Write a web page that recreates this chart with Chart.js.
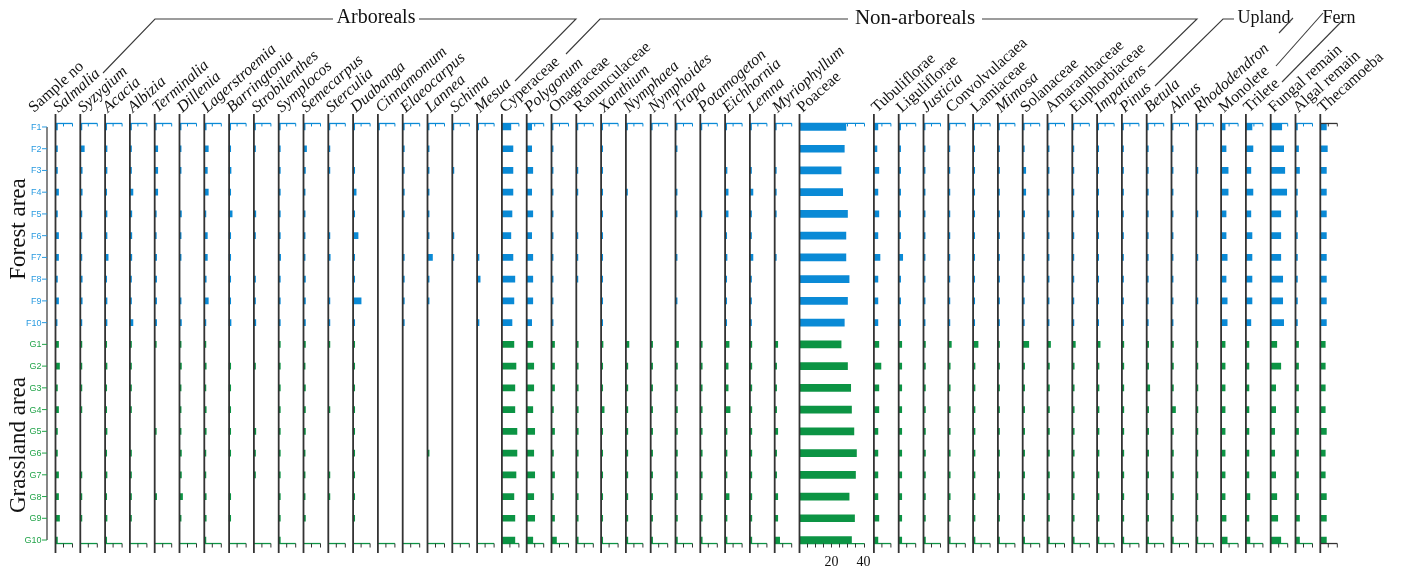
<!DOCTYPE html>
<html>
<head>
<meta charset="utf-8">
<script src="https://cdn.jsdelivr.net/npm/chart.js@4.4.1/dist/chart.umd.min.js"></script>
<style>
  html, body { margin: 0; padding: 0; background: #fff; }
  #wrap { width: 1402px; height: 570px; }
</style>
</head>
<body>
<div id="wrap"><canvas id="c" width="1402" height="570"></canvas></div>
<script>
// Sample sites: ten forest plots and ten grassland plots
const samples = ['F1','F2','F3','F4','F5','F6','F7','F8','F9','F10',
                 'G1','G2','G3','G4','G5','G6','G7','G8','G9','G10'];

// Taxa in diagram order
const taxa = ['Salmalia','Syzygium','Acacia','Albizia','Terminalia','Dillenia','Lagerstroemia',
  'Barringtonia','Strobilenthes','Symplocos','Semecarpus','Sterculia','Duabanga','Cinnamomum',
  'Elaeocarpus','Lannea','Schima','Mesua',
  'Cyperaceae','Polygonum','Onagraceae','Ranunculaceae','Xanthium','Nymphaea','Nymphoides','Trapa',
  'Potamogeton','Eichhornia','Lemna','Myriophyllum','Poaceae',
  'Tubuliflorae','Liguliflorae','Justicia','Convolvulacaea','Lamiaceae','Mimosa','Solanaceae',
  'Amaranthaceae','Euphorbiaceae','Impatiens',
  'Pinus','Betula','Alnus','Rhododendron',
  'Monolete','Trilete',
  'Fungal remain','Algal remain','Thecamoeba'];

// Genus names are set in italics
const italicTaxa = ['Salmalia','Syzygium','Acacia','Albizia','Terminalia','Dillenia','Lagerstroemia',
  'Barringtonia','Strobilenthes','Symplocos','Semecarpus','Sterculia','Duabanga','Cinnamomum',
  'Elaeocarpus','Lannea','Schima','Mesua','Polygonum','Xanthium','Nymphaea','Nymphoides','Trapa',
  'Potamogeton','Eichhornia','Lemna','Myriophyllum','Justicia','Mimosa','Impatiens',
  'Pinus','Betula','Alnus','Rhododendron'];

// Wide column (Poaceae) spans three column slots
const wideTaxa = ['Poaceae'];

// Percentages, forest samples F1..F10 (one row per taxon)
const forestPct = [
  [1.2,1.2,1.2,1.9,1.2,1.9,1.9,1.2,1.9,1.0], // Salmalia
  [1.0,2.5,1.2,1.2,1.0,1.0,1.0,1.2,1.2,1.0], // Syzygium
  [1.0,1.2,1.2,1.0,1.2,1.2,1.9,1.0,1.2,1.2], // Acacia
  [1.0,1.0,1.0,1.9,1.2,1.2,1.2,1.0,1.0,1.9], // Albizia
  [1.0,1.9,1.9,1.9,1.0,1.0,1.2,1.2,1.2,1.2], // Terminalia
  [1.0,1.0,1.0,0,1.2,1.0,1.0,0,1.0,1.2],     // Dillenia
  [1.2,2.5,1.9,2.5,1.0,1.9,1.9,1.2,2.5,1.0], // Lagerstroemia
  [1.0,1.0,1.2,1.0,1.9,1.0,1.0,1.0,1.0,1.2], // Barringtonia
  [1.0,1.0,0,0,1.2,1.0,0,1.0,1.0,1.2],       // Strobilenthes
  [1.0,1.0,1.0,1.0,1.0,1.0,1.2,1.0,1.0,1.0], // Symplocos
  [1.0,1.9,1.2,1.0,1.0,1.0,1.0,1.2,1.2,1.2], // Semecarpus
  [1.0,1.0,1.0,0,0,1.0,1.2,0,1.0,1.0],       // Sterculia
  [1.0,0,1.0,1.9,1.0,3.1,1.0,1.0,5.0,1.0],   // Duabanga
  [1.0,0,0,0,0,0,0,0,0,0],                   // Cinnamomum
  [1.0,1.0,1.0,1.0,1.0,0,1.0,1.0,1.0,1.0],   // Elaeocarpus
  [1.0,1.0,1.0,1.0,1.0,1.0,3.1,1.0,1.0,0],   // Lannea
  [1.0,0,1.0,0,0,1.0,1.0,0,0,0],             // Schima
  [1.0,0,0,0,0,0,1.2,1.9,0,1.2],             // Mesua
  [5.6,6.9,6.9,6.9,6.3,5.6,6.9,8.1,7.5,6.3], // Cyperaceae
  [3.1,3.1,3.8,3.1,3.8,3.1,3.8,3.8,3.8,3.1], // Polygonum
  [1.0,1.0,1.0,1.0,1.0,1.0,1.0,1.0,1.0,1.0], // Onagraceae
  [1.0,0,1.0,1.0,0,1.0,1.0,1.0,0,0],         // Ranunculaceae
  [1.0,1.0,1.0,1.0,1.0,1.0,1.0,1.0,1.0,1.0], // Xanthium
  [1.0,0,0,1.0,0,0,0,0,0,0],                 // Nymphaea
  [1.0,0,0,0,0,0,0,0,0,0],                   // Nymphoides
  [1.0,1.0,0,1.0,1.0,0,1.0,0,1.0,0],         // Trapa
  [1.0,0,0,0,1.0,0,0,0,0,0],                 // Potamogeton
  [1.0,0,1.2,1.9,1.9,1.0,1.2,1.0,1.0,1.0],   // Eichhornia
  [1.0,0,1.0,1.9,1.0,1.0,1.9,1.0,1.0,1.0],   // Lemna
  [1.0,0,1.0,1.0,1.0,0,1.0,0,0,0],           // Myriophyllum
  [29,28,26,27,30,29,29,31,30,28],           // Poaceae
  [2.5,1.9,3.1,2.5,3.1,2.5,3.8,2.5,2.5,2.5], // Tubuliflorae
  [1.2,1.2,1.2,1.2,1.2,1.2,2.5,1.2,1.2,1.2], // Liguliflorae
  [1.0,1.0,1.0,1.0,1.0,1.0,1.0,1.0,1.0,1.0], // Justicia
  [1.0,1.0,1.0,1.0,1.0,1.0,1.0,1.0,1.0,1.0], // Convolvulacaea
  [1.0,1.0,1.0,1.0,1.0,1.0,1.0,1.0,1.0,1.0], // Lamiaceae
  [1.0,1.0,1.0,1.0,1.0,1.0,1.0,1.0,1.0,1.0], // Mimosa
  [1.0,1.0,1.9,1.9,1.2,1.0,1.0,1.0,1.0,1.0], // Solanaceae
  [1.0,1.0,1.0,1.0,1.0,1.0,1.0,1.0,1.0,1.0], // Amaranthaceae
  [1.0,1.0,1.0,1.0,1.0,1.0,1.0,1.0,1.0,1.0], // Euphorbiaceae
  [1.0,1.0,1.0,1.0,1.0,1.0,1.0,1.0,1.0,1.0], // Impatiens
  [1.0,1.0,1.0,1.0,1.0,1.0,1.0,1.0,1.0,1.0], // Pinus
  [1.0,1.0,1.0,1.0,1.0,1.0,1.0,1.0,1.0,1.0], // Betula
  [1.0,1.0,1.0,1.0,1.0,1.0,1.0,1.0,1.0,1.0], // Alnus
  [1.0,0,1.0,0,1.0,0,1.0,0,1.0,0],           // Rhododendron
  [2.5,3.1,4.4,4.4,3.1,3.1,3.8,3.1,3.8,3.8], // Monolete
  [3.8,4.4,3.1,4.4,3.1,3.8,3.8,3.8,3.8,3.1], // Trilete
  [6.9,8.1,8.8,10,6.3,6.3,6.3,7.5,7.5,8.1],  // Fungal remain
  [1.2,1.9,2.5,1.2,1.2,1.2,1.2,1.2,1.2,1.2], // Algal remain
  [3.8,4.4,3.8,3.8,3.8,3.8,3.8,3.8,3.8,3.8]  // Thecamoeba
];

// Percentages, grassland samples G1..G10 (one row per taxon)
const grassPct = [
  [1.9,2.5,1.2,1.9,1.2,1.2,1.9,1.9,2.5,1.2], // Salmalia
  [1.0,1.0,1.0,1.0,0,0,1.0,1.0,1.0,0],       // Syzygium
  [1.0,1.2,1.0,1.0,1.2,1.0,1.2,1.0,1.2,1.0], // Acacia
  [1.0,1.0,1.0,1.0,0,1.0,1.0,1.0,1.0,0],     // Albizia
  [1.0,0,0,0,1.0,0,0,1.2,0,0],               // Terminalia
  [1.0,1.2,1.0,1.0,1.0,1.2,1.2,1.9,1.0,0],   // Dillenia
  [1.0,1.2,1.0,1.2,1.2,1.0,1.0,1.2,1.2,1.0], // Lagerstroemia
  [0,1.0,1.0,1.0,1.0,1.0,0,1.0,1.0,0],       // Barringtonia
  [0,1.0,0,0,1.2,1.0,1.0,0,0,0],             // Strobilenthes
  [1.0,1.0,1.0,1.0,1.0,1.0,1.0,1.0,1.0,1.0], // Symplocos
  [1.2,1.0,1.2,1.2,1.2,1.0,1.0,1.0,1.2,0],   // Semecarpus
  [1.0,0,0,1.0,0,0,1.0,1.0,0,0],             // Sterculia
  [1.0,1.0,1.0,1.0,1.0,1.0,1.0,1.0,1.0,0],   // Duabanga
  [0,0,0,0,0,0,0,0,0,0],                     // Cinnamomum
  [0,0,0,0,0,0,0,0,0,0],                     // Elaeocarpus
  [0,0,0,0,0,1.0,0,0,0,0],                   // Lannea
  [0,0,0,0,0,0,0,0,0,0],                     // Schima
  [0,0,0,0,0,0,0,0,0,0],                     // Mesua
  [7.5,8.8,8.1,8.1,9.4,9.4,8.8,7.5,8.1,8.1], // Cyperaceae
  [3.8,4.4,4.4,3.8,5.0,4.4,5.0,4.4,5.0,3.8], // Polygonum
  [1.9,1.9,1.9,1.2,1.9,1.2,1.9,1.2,1.9,3.1], // Onagraceae
  [1.2,1.2,1.2,1.2,1.2,1.2,1.2,1.2,1.2,1.2], // Ranunculaceae
  [1.2,1.0,1.0,1.9,1.0,1.0,1.0,1.0,1.0,1.0], // Xanthium
  [1.9,1.2,1.2,1.2,1.2,1.2,1.2,1.2,1.2,1.2], // Nymphaea
  [1.2,1.2,1.2,1.2,1.2,1.2,1.2,1.2,1.2,1.2], // Nymphoides
  [1.9,1.2,1.2,1.2,1.2,1.2,1.2,1.2,1.2,1.2], // Trapa
  [1.2,1.2,1.2,1.2,1.2,1.2,1.2,1.2,1.2,1.2], // Potamogeton
  [2.5,1.9,1.9,3.1,1.2,1.2,1.2,2.5,1.2,1.2], // Eichhornia
  [1.2,1.2,1.2,1.2,1.2,1.2,1.2,1.2,1.2,1.2], // Lemna
  [1.9,1.2,1.2,1.2,1.9,1.2,1.2,1.9,1.9,3.1], // Myriophyllum
  [26,30,32,32.5,34,35.6,35,31,34.4,32.5],   // Poaceae
  [3.1,4.4,3.1,3.1,2.5,2.5,2.5,2.5,3.1,2.5], // Tubuliflorae
  [1.9,1.9,1.9,1.9,1.9,1.9,1.9,1.9,1.9,1.9], // Liguliflorae
  [1.2,1.2,1.2,1.2,1.2,1.2,1.2,1.2,1.2,1.2], // Justicia
  [1.9,1.2,1.2,1.2,1.2,1.2,1.2,1.2,1.2,1.2], // Convolvulacaea
  [3.1,1.2,1.2,1.2,1.2,1.2,1.2,1.2,1.2,1.2], // Lamiaceae
  [1.0,1.0,1.0,1.0,1.0,1.0,1.0,1.0,1.0,1.0], // Mimosa
  [3.8,1.2,1.2,1.2,1.2,1.2,1.2,1.2,1.2,1.2], // Solanaceae
  [1.9,1.2,1.2,1.2,1.2,1.2,1.2,1.2,1.2,1.2], // Amaranthaceae
  [1.9,1.2,1.2,1.2,1.2,1.2,1.2,1.2,1.2,1.2], // Euphorbiaceae
  [1.9,1.2,1.2,1.2,1.2,1.2,1.2,1.2,1.2,1.2], // Impatiens
  [1.2,1.2,1.2,1.2,1.2,1.2,1.2,1.2,1.2,1.2], // Pinus
  [1.2,1.2,1.9,1.2,1.2,1.2,1.2,1.2,1.2,1.2], // Betula
  [1.2,1.2,1.2,2.5,1.2,1.2,1.2,1.2,1.2,1.2], // Alnus
  [1.0,1.0,1.0,1.0,1.0,1.0,1.0,1.0,1.0,1.0], // Rhododendron
  [2.5,2.5,2.5,2.5,2.5,2.5,2.5,2.5,3.1,3.8], // Monolete
  [1.9,1.9,1.9,1.9,1.9,1.9,1.9,2.5,1.9,2.5], // Trilete
  [3.8,6.3,3.1,3.1,2.5,2.5,3.1,3.8,4.4,6.3], // Fungal remain
  [1.9,1.9,1.9,1.9,1.9,1.9,1.9,1.9,2.5,2.5], // Algal remain
  [3.1,3.1,3.1,3.1,3.8,3.1,3.1,3.8,3.8,3.8]  // Thecamoeba
];

// Group headings
const groupNames = ['Arboreals','Non-arboreals','Upland','Fern'];

// ---- layout helpers ----
const SLOT = 15.5;          // width of one column slot, in percent units
const SMALL_AXIS = 10;      // axis length of an ordinary column
const WIDE_AXIS = 40;       // axis length of the Poaceae column
const BLUE = '#0a8ad6', GREEN = '#0c9444';
const BLUE_TXT = '#2a9be0', GREEN_TXT = '#22a44a';

const spans = taxa.map(t => wideTaxa.includes(t) ? 3 : 1);
const offsets = [];
spans.reduce((acc, s, i) => { offsets[i] = acc * SLOT; return acc + s; }, 0);
const totalSlots = spans.reduce((a, b) => a + b, 0);

const datasets = taxa.map((name, i) => {
  const vals = forestPct[i].concat(grassPct[i]);
  return {
    label: name,
    data: vals.map(v => (v > 0 ? [offsets[i], offsets[i] + v] : null)),
    backgroundColor: samples.map(s => (s[0] === 'F' ? BLUE : GREEN)),
    borderWidth: 0,
    barThickness: wideTaxa.includes(name) ? 7 : 6,
    grouped: false
  };
});

const SERIF = '"Liberation Serif", "Times New Roman", serif';
const SANS = '"Liberation Sans", Arial, sans-serif';

function line(ctx, pts, color, w) {
  ctx.beginPath();
  ctx.moveTo(pts[0][0], pts[0][1]);
  for (let i = 1; i < pts.length; i++) ctx.lineTo(pts[i][0], pts[i][1]);
  ctx.strokeStyle = color; ctx.lineWidth = w; ctx.stroke();
}

const diagramPlugin = {
  id: 'pollenDiagram',
  afterDatasetsDraw(chart) {
    const { ctx, chartArea } = chart;
    const xs = chart.scales.x, ys = chart.scales.y;
    const yFirst = ys.getPixelForValue(0);
    const yLast = ys.getPixelForValue(samples.length - 1);
    const topAxisY = yFirst - 3.5;
    const botAxisY = yLast + 3.5;

    ctx.save();
    ctx.lineCap = 'butt';

    // Sample axis on the left
    const sx = xs.getPixelForValue(0) - 8.5;
    line(ctx, [[sx, yFirst], [sx, yLast]], '#444', 1.3);
    ctx.font = '9px ' + SANS;
    ctx.textAlign = 'right';
    ctx.textBaseline = 'middle';
    samples.forEach((s, j) => {
      const y = ys.getPixelForValue(j);
      const c = s[0] === 'F' ? BLUE_TXT : GREEN_TXT;
      line(ctx, [[sx - 5, y], [sx, y]], c, 1);
      ctx.fillStyle = c;
      ctx.fillText(s, sx - 5.5, y + 0.5);
    });

    // One panel per taxon: vertical axis, top and bottom percentage axes
    taxa.forEach((name, i) => {
      const wide = wideTaxa.includes(name);
      const axisLen = wide ? WIDE_AXIS : SMALL_AXIS;
      const x0 = xs.getPixelForValue(offsets[i]);
      const x1 = xs.getPixelForValue(offsets[i] + axisLen) + 1;
      const last = i === taxa.length - 1;
      const topCol = last ? '#333' : BLUE;
      const botCol = last ? '#333' : GREEN;

      // top axis
      line(ctx, [[x0, topAxisY], [x1, topAxisY]], topCol, 1.3);
      for (let t = 5; t <= axisLen; t += 5) {
        const xt = xs.getPixelForValue(offsets[i] + t) + (t === axisLen ? 1 : 0);
        line(ctx, [[xt, topAxisY], [xt, topAxisY + 3]], topCol, 1);
      }
      // bottom axis
      line(ctx, [[x0, botAxisY], [x1, botAxisY]], botCol, 1.3);
      for (let t = 5; t <= axisLen; t += 5) {
        const xt = xs.getPixelForValue(offsets[i] + t) + (t === axisLen ? 1 : 0);
        line(ctx, [[xt, botAxisY], [xt, botAxisY + 4]], '#333', 1);
      }
      if (wide) {
        ctx.font = '14px ' + SERIF;
        ctx.fillStyle = '#111';
        ctx.textAlign = 'center';
        ctx.textBaseline = 'alphabetic';
        [20, 40].forEach(t => {
          ctx.fillText(String(t), xs.getPixelForValue(offsets[i] + t), 566);
        });
      }
      // vertical axis
      line(ctx, [[x0, chartArea.top - 2], [x0, chartArea.bottom + 2]], '#333', 1.8);
    });

    // Rotated column headings
    const ang = -42 * Math.PI / 180;
    ctx.fillStyle = '#111';
    ctx.textAlign = 'left';
    ctx.textBaseline = 'alphabetic';
    const drawLabel = (text, x, italic) => {
      ctx.save();
      ctx.translate(x, 113);
      ctx.rotate(ang);
      ctx.font = (italic ? 'italic ' : '') + '16px ' + SERIF;
      ctx.fillText(text, 0, 0);
      ctx.restore();
    };
    drawLabel('Sample no', sx - 13, false);
    taxa.forEach((name, i) => {
      drawLabel(name, xs.getPixelForValue(offsets[i]) + 3, italicTaxa.includes(name));
    });

    // Group headings with their leader lines
    ctx.textAlign = 'center';
    ctx.textBaseline = 'middle';
    const headX = [376, 915, 1264, 1339];
    const headSize = [20, 21, 18, 18];
    groupNames.forEach((g, k) => {
      ctx.font = headSize[k] + 'px ' + SERIF;
      ctx.fillText(g, headX[k], 18);
    });
    const lc = '#3a3a3a';
    line(ctx, [[103, 73], [155, 19], [333, 19]], lc, 1.1);
    line(ctx, [[419, 19], [576, 19], [515, 81]], lc, 1.1);
    line(ctx, [[566, 54], [600, 19], [848, 19]], lc, 1.1);
    line(ctx, [[982, 19], [1197, 19], [1148, 67]], lc, 1.1);
    line(ctx, [[1155, 86], [1223, 19], [1234, 19]], lc, 1.1);
    line(ctx, [[1293, 18], [1279, 33]], lc, 1.1);
    line(ctx, [[1323, 13], [1276, 66]], lc, 1.1);
    line(ctx, [[1343, 20], [1282, 82]], lc, 1.1);

    // Site group labels
    ctx.font = '23px ' + SERIF;
    ctx.fillStyle = '#111';
    const vlabel = (t, y) => {
      ctx.save();
      ctx.translate(19, y);
      ctx.rotate(-Math.PI / 2);
      ctx.textAlign = 'center';
      ctx.textBaseline = 'middle';
      ctx.fillText(t, 0, 0);
      ctx.restore();
    };
    vlabel('Forest area', 229);
    vlabel('Grassland area', 445);

    ctx.restore();
  }
};

new Chart(document.getElementById('c'), {
  type: 'bar',
  data: { labels: samples, datasets },
  options: {
    indexAxis: 'y',
    responsive: false,
    animation: false,
    devicePixelRatio: 1,
    layout: { padding: { left: 55.5, right: 1402 - 55.5 - totalSlots * SLOT * 1.6, top: 116.1, bottom: 19.1 } },
    scales: {
      x: { type: 'linear', min: 0, max: totalSlots * SLOT, display: false },
      y: { type: 'category', display: false, offset: true }
    },
    plugins: { legend: { display: false }, tooltip: { enabled: false } }
  },
  plugins: [diagramPlugin]
});
</script>
</body>
</html>
